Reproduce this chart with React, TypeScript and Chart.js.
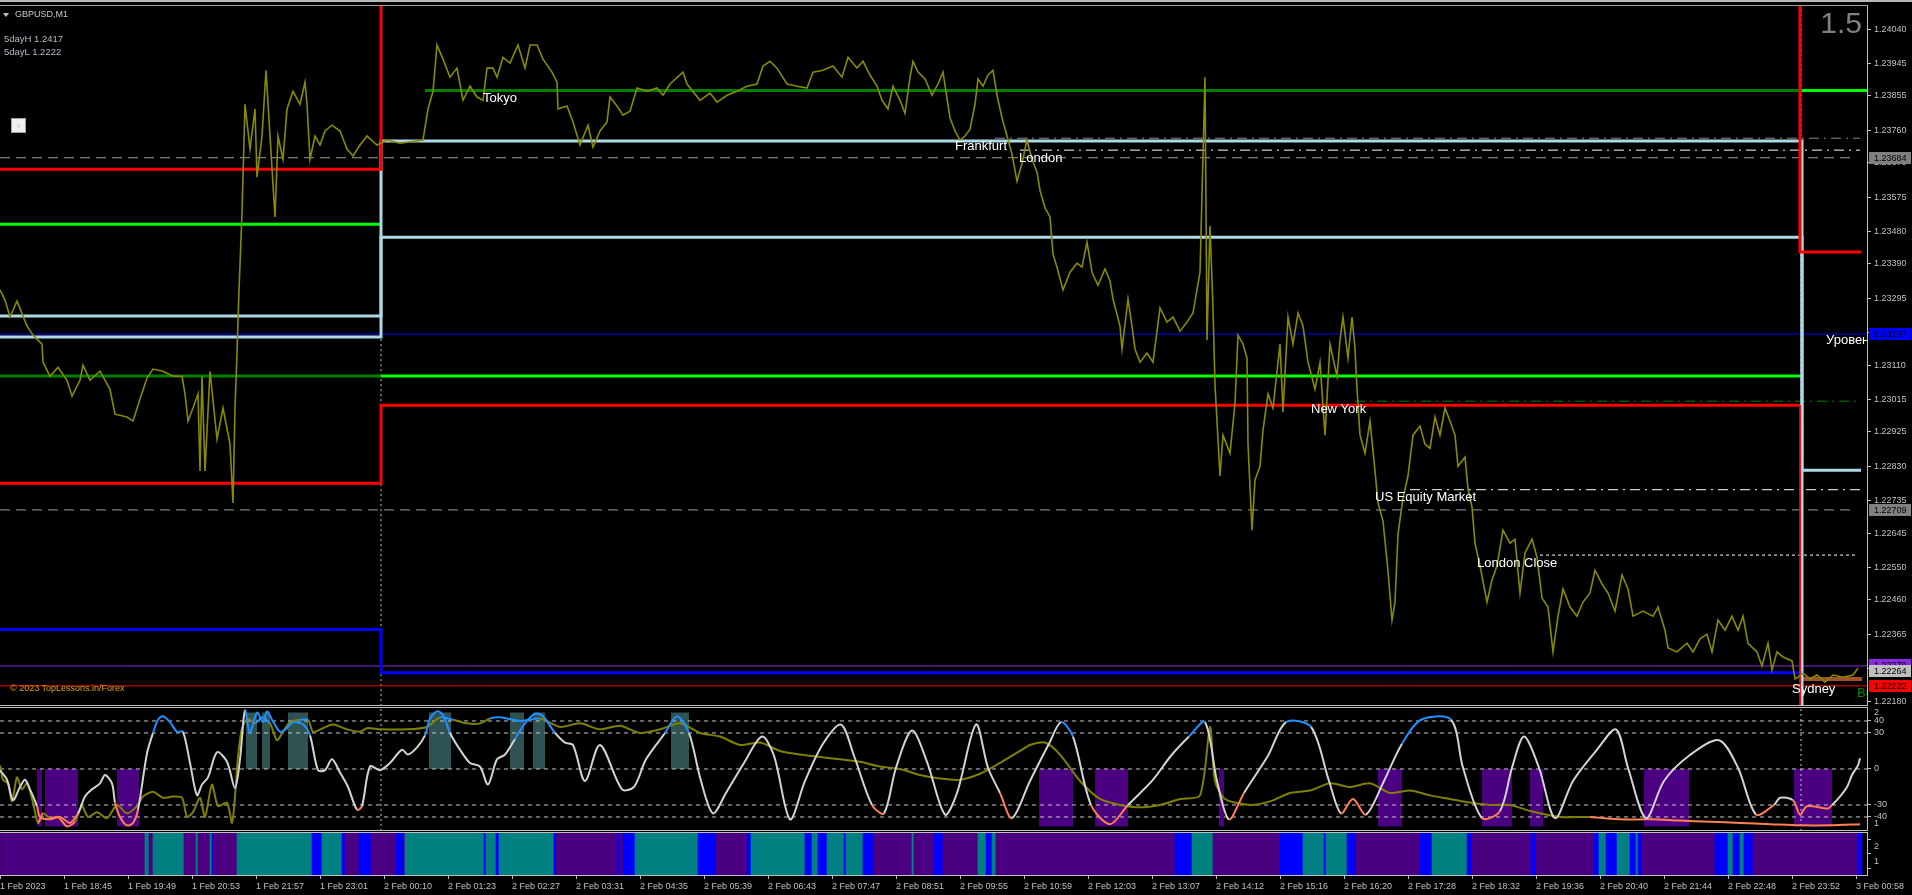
import React, { useEffect, useRef } from "react";
import { Chart, registerables } from "chart.js";
Chart.register(...registerables);

const FONT = '"Liberation Sans", Arial, sans-serif';

// ---------- axes ----------
const BAR_MAX = 1867; // M1 bars visible in the window
const PRICE_MIN = 1.22169;
const PRICE_MAX = 1.24104;
const priceTicks = [1.2404, 1.23945, 1.23855, 1.2376, 1.2367, 1.23575, 1.2348, 1.2339, 1.23295, 1.232, 1.2311, 1.23015, 1.22925, 1.2283, 1.22735, 1.22645, 1.2255, 1.2246, 1.22365, 1.2227, 1.2218];
const timeTicks = [0, 64, 128, 192, 256, 320, 384, 448, 512, 576, 640, 704, 768, 832, 896, 960, 1024, 1088, 1152, 1216, 1280, 1344, 1408, 1472, 1536, 1600, 1664, 1728, 1792, 1856];
const timeLabels = ["1 Feb 2023", "1 Feb 18:45", "1 Feb 19:49", "1 Feb 20:53", "1 Feb 21:57", "1 Feb 23:01", "2 Feb 00:10", "2 Feb 01:23", "2 Feb 02:27", "2 Feb 03:31", "2 Feb 04:35", "2 Feb 05:39", "2 Feb 06:43", "2 Feb 07:47", "2 Feb 08:51", "2 Feb 09:55", "2 Feb 10:59", "2 Feb 12:03", "2 Feb 13:07", "2 Feb 14:12", "2 Feb 15:16", "2 Feb 16:20", "2 Feb 17:28", "2 Feb 18:32", "2 Feb 19:36", "2 Feb 20:40", "2 Feb 21:44", "2 Feb 22:48", "2 Feb 23:52", "3 Feb 00:58"];

// ---------- price path (bar, price) ----------
const pricePath: [number, number][] = [
  [0, 1.23318], [5, 1.2329], [10, 1.23243], [17, 1.23287], [27, 1.23218], [33, 1.23193], [42, 1.23168], [43, 1.23118], [50, 1.23079], [58, 1.23104], [67, 1.23068], [72, 1.23024], [80, 1.23068], [83, 1.2311], [90, 1.23068], [100, 1.23093], [110, 1.23043], [115, 1.22974], [127, 1.22966], [133, 1.22955], [140, 1.23016], [147, 1.23074], [153, 1.23099], [163, 1.23093], [173, 1.23079], [182, 1.23079], [185, 1.2303], [188, 1.22955], [193, 1.22991], [198, 1.2303], [200, 1.22817], [202, 1.23079], [205, 1.22817], [210, 1.23093], [217, 1.22905], [223, 1.22991], [230, 1.22891], [233, 1.22728], [235, 1.22991], [237, 1.23143], [239, 1.23318], [242, 1.23531], [245, 1.23832], [250, 1.23708], [255, 1.23819], [257, 1.2363], [262, 1.23744], [266, 1.23926], [270, 1.23744], [275, 1.2352], [278, 1.23744], [283, 1.2368], [287, 1.23819], [293, 1.23868], [300, 1.23832], [305, 1.23893], [307, 1.23832], [310, 1.2368], [315, 1.23744], [320, 1.23719], [325, 1.23758], [332, 1.23774], [340, 1.23758], [347, 1.23708], [353, 1.23689], [360, 1.23719], [367, 1.23744], [377, 1.23719], [387, 1.23733], [400, 1.23724], [423, 1.23733], [428, 1.23819], [433, 1.23868], [437, 1.23996], [443, 1.23957], [450, 1.23907], [457, 1.23932], [463, 1.23843], [470, 1.23882], [477, 1.23852], [483, 1.23843], [487, 1.23932], [493, 1.23932], [497, 1.23907], [503, 1.23962], [510, 1.23946], [518, 1.23996], [525, 1.23932], [530, 1.23996], [537, 1.23996], [543, 1.23957], [552, 1.23921], [557, 1.23893], [558, 1.23819], [567, 1.23827], [573, 1.23783], [580, 1.23719], [588, 1.23774], [593, 1.23713], [600, 1.23758], [607, 1.23783], [610, 1.23852], [617, 1.23827], [623, 1.23802], [630, 1.23813], [637, 1.23877], [647, 1.23868], [657, 1.23877], [663, 1.23857], [670, 1.23888], [683, 1.23921], [687, 1.23888], [700, 1.23843], [710, 1.23863], [717, 1.23838], [727, 1.23857], [737, 1.23868], [747, 1.23882], [757, 1.23888], [763, 1.23938], [770, 1.23951], [777, 1.23932], [787, 1.23888], [797, 1.23882], [807, 1.23877], [813, 1.23921], [823, 1.23926], [833, 1.23938], [842, 1.23907], [848, 1.23962], [857, 1.23932], [863, 1.23951], [870, 1.23913], [877, 1.23882], [882, 1.23843], [888, 1.23819], [893, 1.23882], [900, 1.23843], [905, 1.23807], [910, 1.23907], [913, 1.23951], [918, 1.23921], [925, 1.23902], [932, 1.23857], [938, 1.23888], [943, 1.23921], [950, 1.23794], [955, 1.23758], [960, 1.23733], [965, 1.23744], [970, 1.23763], [975, 1.23832], [978, 1.23902], [983, 1.23882], [988, 1.23913], [993, 1.23926], [997, 1.23857], [1002, 1.23794], [1007, 1.23744], [1012, 1.23694], [1017, 1.23619], [1022, 1.23669], [1027, 1.23733], [1032, 1.2368], [1037, 1.23644], [1040, 1.23594], [1045, 1.23545], [1050, 1.2352], [1053, 1.23417], [1057, 1.23381], [1063, 1.23318], [1070, 1.23367], [1077, 1.23392], [1082, 1.23381], [1087, 1.2345], [1092, 1.23367], [1098, 1.23331], [1105, 1.23376], [1110, 1.23343], [1113, 1.23293], [1120, 1.23218], [1122, 1.23154], [1128, 1.23293], [1132, 1.23218], [1135, 1.23154], [1140, 1.23118], [1147, 1.23143], [1153, 1.23118], [1160, 1.23268], [1167, 1.23229], [1173, 1.23243], [1180, 1.23204], [1187, 1.23229], [1193, 1.23254], [1200, 1.23367], [1205, 1.23907], [1207, 1.23179], [1210, 1.23495], [1213, 1.23268], [1215, 1.23055], [1220, 1.22803], [1223, 1.22916], [1230, 1.22866], [1235, 1.23005], [1238, 1.23193], [1243, 1.23168], [1247, 1.23129], [1248, 1.22891], [1252, 1.22653], [1255, 1.22792], [1260, 1.2283], [1263, 1.2293], [1268, 1.2303], [1273, 1.22991], [1280, 1.23168], [1283, 1.2298], [1288, 1.23243], [1293, 1.23168], [1298, 1.23254], [1303, 1.23218], [1308, 1.23118], [1315, 1.23043], [1320, 1.23118], [1325, 1.22916], [1330, 1.23168], [1337, 1.23079], [1340, 1.23179], [1343, 1.23243], [1348, 1.23129], [1352, 1.23243], [1355, 1.23154], [1357, 1.23043], [1360, 1.22916], [1365, 1.22866], [1370, 1.22955], [1375, 1.22817], [1378, 1.22728], [1383, 1.22678], [1388, 1.2254], [1392, 1.22404], [1395, 1.22454], [1398, 1.22642], [1403, 1.22742], [1408, 1.22803], [1413, 1.22916], [1420, 1.22941], [1425, 1.22891], [1430, 1.2288], [1435, 1.22966], [1440, 1.22916], [1445, 1.22991], [1450, 1.22955], [1455, 1.22916], [1458, 1.2283], [1465, 1.22855], [1468, 1.22767], [1472, 1.22717], [1475, 1.22617], [1480, 1.22554], [1487, 1.22454], [1492, 1.22515], [1497, 1.22554], [1503, 1.22653], [1510, 1.22617], [1515, 1.22628], [1520, 1.22479], [1525, 1.2259], [1532, 1.22628], [1537, 1.22578], [1542, 1.22465], [1548, 1.2244], [1553, 1.22316], [1558, 1.22415], [1563, 1.2249], [1570, 1.2244], [1577, 1.22415], [1583, 1.22454], [1590, 1.22479], [1595, 1.22542], [1602, 1.22504], [1608, 1.22479], [1615, 1.22429], [1622, 1.22529], [1628, 1.2249], [1633, 1.22415], [1643, 1.22429], [1653, 1.22415], [1658, 1.2244], [1665, 1.22376], [1668, 1.22327], [1677, 1.22316], [1687, 1.2234], [1693, 1.22316], [1700, 1.22352], [1707, 1.22365], [1712, 1.22316], [1718, 1.22404], [1725, 1.22376], [1732, 1.22415], [1738, 1.22376], [1743, 1.22415], [1748, 1.2234], [1757, 1.22316], [1762, 1.22277], [1768, 1.2234], [1772, 1.22266], [1777, 1.22316], [1783, 1.22302], [1792, 1.22291], [1795, 1.22241], [1798, 1.22246], [1803, 1.22257], [1810, 1.22241], [1817, 1.22252], [1825, 1.22232], [1833, 1.22252], [1843, 1.22246], [1853, 1.22252], [1858, 1.22271],
];

// ---------- session step lines (bar, price) ----------
const redHighBars = [0, 381, 381, 1800, 1800, 1861];
const redHighPrice = [1.23652, 1.23652, 1.2417, 1.2417, 1.23423, 1.23423];
const redLowBars = [0, 381, 381, 1800];
const redLowPrice = [1.22783, 1.22783, 1.22999, 1.22999];
const redTailBars = [1800, 1800];
const redTailPrice = [1.22999, 1.2212];
const iceABars = [0, 381, 381, 1802, 1802];
const iceAPrice = [1.23188, 1.23188, 1.2373, 1.2373, 1.2212];
const iceBBars = [0, 381, 381, 1802, 1802, 1861];
const iceBPrice = [1.23246, 1.23246, 1.23464, 1.23464, 1.22819, 1.22819];
const blueBars = [0, 381, 381, 1802];
const bluePrice = [1.22378, 1.22378, 1.22258, 1.22258];

// ---------- horizontal levels ----------
const levelPrice = [1.235, 1.2308, 1.2387, 1.2308, 1.2387, 1.23196, 1.22277, 1.22222, 1.23684, 1.22709, 1.23738, 1.23705, 1.2301, 1.22765, 1.22584, 1.22241];
const levelFrom = [0, 0, 425, 381, 1802, 0, 0, 0, 0, 0, 995, 1020, 1355, 1410, 1540, 1800];
const levelTo = [381, 381, 1802, 1802, 1867, 1867, 1867, 1867, 1850, 1850, 1860, 1860, 1860, 1860, 1857, 1862];
const levelKind = ["greenHi", "greenDk", "greenDk", "greenHi", "greenHi", "blueThin", "purpleThin", "redThin", "grayDash", "grayDash", "grayDashDot", "whiteDashDot", "greenDashDot", "whiteDashDot", "whiteDot", "sienna"];

const sepBars = [381, 1801];

// ---------- labels on the chart ----------
const sessionNames = ["Tokyo", "Frankfurt", "London", "New York", "US Equity Market", "London Close", "Sydney", "Уровень", "Bu"];
const sessionBar = [483, 955, 1019, 1311, 1375, 1477, 1792, 1826, 1857];
const sessionPrice = [1.23849, 1.23716, 1.23683, 1.22988, 1.22745, 1.22562, 1.22213, 1.23179, 1.22202];
const boxPrices = [1.23684, 1.23197, 1.22709, 1.22279, 1.22264, 1.22222];

// ---------- oscillator ----------
const oscLevels = [40, 30, 0, -30, -40];
const oscWhite: [number, number][] = [
  [0, -1], [7, -9], [13, -26], [20, -15], [25, -9], [30, -17], [37, -31], [40, -40], [50, -42], [60, -40], [70, -45], [78, -37], [85, -23], [92, -17], [100, -12], [105, -5], [112, -12], [115, -28], [120, -40], [127, -47], [133, -45], [138, -34], [147, 13], [153, 30], [158, 41], [163, 44], [170, 39], [177, 31], [183, 31], [190, 5], [197, -22], [202, -13], [208, -7], [217, 14], [227, 6], [235, -16], [240, 8], [245, 49], [250, 30], [257, 47], [263, 39], [267, 48], [272, 41], [280, 31], [287, 34], [293, 39], [303, 37], [310, 28], [318, -1], [325, -1], [332, 8], [340, -3], [348, -15], [357, -34], [362, -31], [370, 2], [380, -1], [390, 5], [402, 16], [408, 12], [417, 18], [425, 28], [430, 42], [437, 48], [443, 45], [450, 30], [460, 16], [470, 5], [480, 2], [488, -13], [497, 8], [505, 12], [515, 25], [525, 38], [535, 46], [543, 44], [555, 30], [565, 22], [573, 20], [585, -10], [600, 20], [622, -17], [634, -15], [646, 8], [665, 30], [677, 44], [689, 30], [701, -10], [713, -37], [726, -20], [744, 5], [762, 27], [774, 11], [790, -42], [805, -10], [823, 21], [841, 37], [854, 11], [872, -30], [884, -37], [896, 1], [912, 32], [927, 6], [945, -38], [957, -20], [976, 37], [988, 1], [1000, -20], [1012, -41], [1030, -10], [1049, 21], [1061, 39], [1073, 27], [1091, -30], [1110, -46], [1128, -30], [1152, -10], [1171, 11], [1189, 27], [1205, 39], [1217, -10], [1229, -42], [1244, -20], [1268, 11], [1286, 39], [1311, 35], [1329, -10], [1341, -37], [1353, -25], [1366, -38], [1384, -10], [1402, 21], [1421, 41], [1451, 41], [1463, 1], [1482, -41], [1500, -35], [1512, 1], [1524, 27], [1539, 1], [1555, -41], [1573, -10], [1597, 16], [1616, 33], [1628, 1], [1646, -41], [1664, -10], [1689, 11], [1719, 24], [1738, 1], [1756, -38], [1774, -30], [1780, -24], [1793, -26], [1800, -38], [1807, -31], [1828, -33], [1832, -30], [1838, -25], [1847, -15], [1852, -5], [1855, -1], [1858, 3], [1860, 9],
];
const oscOlive: [number, number][] = [
  [0, 3], [3, -9], [8, -12], [12, -27], [17, -7], [22, -17], [27, -12], [33, -28], [38, -45], [43, -37], [50, -41], [58, -40], [67, -48], [75, -44], [82, -31], [88, -40], [97, -36], [107, -41], [117, -30], [127, -37], [137, -31], [143, -23], [153, -19], [163, -24], [173, -23], [182, -24], [187, -40], [193, -36], [200, -24], [205, -40], [212, -13], [218, -31], [227, -28], [232, -45], [235, -23], [238, 10], [242, 34], [248, 42], [255, 38], [262, 43], [270, 38], [277, 24], [283, 31], [290, 39], [300, 41], [308, 41], [313, 31], [323, 34], [333, 37], [347, 33], [360, 31], [367, 34], [380, 33], [407, 33], [427, 35], [440, 43], [453, 41], [467, 38], [480, 38], [490, 42], [500, 43], [520, 40], [540, 42], [560, 35], [580, 38], [600, 33], [620, 36], [640, 30], [660, 33], [680, 38], [700, 30], [720, 27], [740, 20], [760, 22], [780, 15], [800, 12], [820, 10], [840, 8], [860, 6], [880, 2], [900, 0], [920, -5], [940, -8], [960, -9], [980, -4], [1000, 5], [1010, 10], [1020, 15], [1030, 20], [1045, 22], [1060, 12], [1080, -10], [1100, -25], [1120, -30], [1140, -32], [1160, -30], [1180, -25], [1200, -22], [1210, 35], [1215, -10], [1225, -25], [1250, -30], [1270, -27], [1290, -20], [1310, -18], [1330, -12], [1350, -15], [1370, -12], [1390, -20], [1410, -18], [1430, -22], [1450, -25], [1470, -28], [1490, -30], [1510, -30], [1530, -35], [1560, -40], [1590, -40], [1620, -42], [1650, -42], [1680, -43], [1710, -44], [1740, -45], [1770, -46], [1800, -47], [1830, -47], [1860, -46],
];
const tealStart = [246, 262, 288, 429, 510, 533, 671];
const tealEnd = [257, 270, 308, 451, 524, 545, 689];
const tealTop = 47;
const purpStart = [37, 45, 117, 1039, 1095, 1219, 1378, 1482, 1530, 1644, 1794];
const purpEnd = [42, 78, 139, 1073, 1128, 1224, 1402, 1512, 1543, 1689, 1832];
const purpBottom = -48;
const keyLabels = [2, 1];

// ---------- state bar ----------
const barEdges = [0, 145, 149, 153, 184, 196, 198, 210, 212, 213, 237, 312, 322, 342, 345, 359, 371, 396, 404, 405, 484, 486, 496, 499, 554, 556, 617, 619, 623, 635, 698, 716, 747, 751, 805, 812, 818, 827, 844, 846, 863, 874, 912, 914, 934, 943, 978, 986, 992, 996, 1175, 1192, 1213, 1280, 1303, 1324, 1326, 1347, 1356, 1420, 1432, 1467, 1472, 1531, 1536, 1594, 1599, 1606, 1617, 1630, 1636, 1638, 1642, 1715, 1728, 1733, 1740, 1744, 1753, 1858, 1862];
const barStates = ["P", "T", "P", "T", "P", "T", "P", "T", "B", "P", "T", "B", "T", "B", "P", "B", "P", "B", "P", "T", "B", "T", "B", "T", "B", "P", "B", "P", "B", "T", "B", "P", "B", "T", "B", "T", "B", "T", "B", "T", "B", "P", "T", "P", "B", "P", "T", "B", "T", "P", "B", "T", "P", "B", "T", "B", "T", "B", "P", "B", "T", "B", "P", "B", "P", "B", "T", "B", "T", "B", "T", "B", "P", "B", "T", "B", "T", "B", "P", "B"];

// ---------- styles ----------
const AX = "#C0C0C0";
const LEVEL_STYLE: Record<string, { c: string; w: number; d: number[] }> = {
  greenHi: { c: "#00FF00", w: 3, d: [] },
  greenDk: { c: "#008000", w: 3, d: [] },
  blueThin: { c: "#0000FF", w: 1, d: [] },
  purpleThin: { c: "#8A2BE2", w: 1, d: [] },
  redThin: { c: "#FF0000", w: 1, d: [] },
  grayDash: { c: "#9A9A9A", w: 1, d: [10, 6] },
  grayDashDot: { c: "#8A8A8A", w: 1, d: [10, 5, 2, 5] },
  whiteDashDot: { c: "#FFFFFF", w: 1, d: [10, 5, 2, 5] },
  greenDashDot: { c: "#008000", w: 1, d: [10, 5, 2, 5] },
  whiteDot: { c: "#FFFFFF", w: 1, d: [3, 3] },
  sienna: { c: "#A0522D", w: 4, d: [] },
};
const STATE_COLOR: Record<string, string> = { P: "#4B0082", T: "#008080", B: "#0000FF" };
const BOX_COLOR = ["#808080", "#0000FF", "#808080", "#8A2BE2", "#C0C0C0", "#FF0000"];

const xy = (xs: number[], ys: number[]) => xs.map((x, i) => ({ x, y: ys[i] }));
const pairs = (p: [number, number][]) => p.map(([x, y]) => ({ x, y }));

function line(data: any[], color: string, width: number, dash: number[], order: number, extra: any = {}) {
  return { type: "line", xAxisID: "x", yAxisID: "y", data, borderColor: color, borderWidth: width, borderDash: dash, pointRadius: 0, fill: false, tension: 0, order, ...extra };
}

const tickFont = { family: FONT, size: 9 };

function mainConfig(): any {
  const ds: any[] = [];
  levelPrice.forEach((p, i) => {
    const st = LEVEL_STYLE[levelKind[i]];
    ds.push(line([{ x: levelFrom[i], y: p }, { x: levelTo[i], y: p }], st.c, st.w, st.d, 6));
  });
  sepBars.forEach((b) => ds.push(line([{ x: b, y: PRICE_MIN - 0.001 }, { x: b, y: PRICE_MAX + 0.001 }], "#C8C8C8", 1, [2, 3], 7)));
  ds.push(line(xy(blueBars, bluePrice), "#0000FF", 3, [], 5));
  ds.push(line(xy(iceABars, iceAPrice), "#ADD8E6", 3, [], 4));
  ds.push(line(xy(iceBBars, iceBPrice), "#ADD8E6", 3, [], 4));
  ds.push(line(xy(redTailBars, redTailPrice), "#FF0000", 1, [], 3));
  ds.push(line(xy(redLowBars, redLowPrice), "#FF0000", 3, [], 3));
  ds.push(line(xy(redHighBars, redHighPrice), "#FF0000", 3, [], 3));
  ds.push(line(pairs(pricePath), "#8A8A00", 1.6, [], 1));

  const overlay = {
    id: "mainOverlay",
    afterDatasetsDraw(chart: any) {
      const { ctx, chartArea, scales } = chart;
      ctx.save();
      ctx.beginPath();
      ctx.rect(chartArea.left, chartArea.top, chartArea.width, chartArea.height);
      ctx.clip();
      ctx.font = `13px ${FONT}`;
      ctx.textBaseline = "middle";
      sessionNames.forEach((n, i) => {
        ctx.fillStyle = n === "Bu" ? "#008000" : "#FFFFFF";
        ctx.fillText(n, scales.x.getPixelForValue(sessionBar[i]), scales.y.getPixelForValue(sessionPrice[i]));
      });
      ctx.restore();
    },
    afterDraw(chart: any) {
      const { ctx, chartArea, scales } = chart;
      ctx.save();
      ctx.font = `9px ${FONT}`;
      ctx.textBaseline = "middle";
      boxPrices.forEach((p, i) => {
        const py = Math.round(scales.y.getPixelForValue(p));
        ctx.fillStyle = BOX_COLOR[i];
        ctx.fillRect(chartArea.right + 2, py - 6, 42, 12);
        ctx.fillStyle = "#000000";
        ctx.fillText(p.toFixed(5), chartArea.right + 7, py + 0.5);
      });
      ctx.restore();
    },
  };

  return {
    type: "line",
    data: { datasets: ds },
    options: {
      responsive: false,
      animation: false,
      events: [],
      layout: { padding: { top: 6, bottom: 1, left: 0, right: 0 } },
      plugins: { legend: { display: false }, tooltip: { enabled: false } },
      scales: {
        x: { type: "linear", min: 0, max: BAR_MAX, display: false },
        y: {
          type: "linear",
          position: "right",
          min: PRICE_MIN,
          max: PRICE_MAX,
          afterBuildTicks: (s: any) => { s.ticks = priceTicks.map((v) => ({ value: v })); },
          afterFit: (s: any) => { s.width = 45; s.paddingTop = 0; s.paddingBottom = 0; },
          ticks: { color: AX, font: tickFont, padding: 3, autoSkip: false, callback: (v: any) => Number(v).toFixed(5) },
          grid: { drawOnChartArea: false, drawTicks: true, tickLength: 4, color: AX },
          border: { display: true, color: AX },
        },
      },
    },
    plugins: [overlay],
  };
}

function oscConfig(): any {
  const ds: any[] = [];
  const teal: any[] = [];
  tealStart.forEach((s, i) => teal.push({ x: s, y: 0 }, { x: s, y: tealTop }, { x: tealEnd[i], y: tealTop }, { x: tealEnd[i], y: 0 }));
  const purp: any[] = [];
  purpStart.forEach((s, i) => purp.push({ x: s, y: 0 }, { x: s, y: purpBottom }, { x: purpEnd[i], y: purpBottom }, { x: purpEnd[i], y: 0 }));
  ds.push(line(teal, "rgba(0,0,0,0)", 0, [], 10, { fill: { value: 0 }, backgroundColor: "#2F5252" }));
  ds.push(line(purp, "rgba(0,0,0,0)", 0, [], 10, { fill: { value: 0 }, backgroundColor: "#4B0082" }));
  oscLevels.forEach((v) => ds.push(line([{ x: 0, y: v }, { x: BAR_MAX, y: v }], "#C8C8C8", 1, [4, 4], 6)));
  sepBars.forEach((b) => ds.push(line([{ x: b, y: -60 }, { x: b, y: 60 }], "#C8C8C8", 1, [2, 3], 7)));
  const colorBy = (hi: number, lo: number, base: string) => (c: any) => {
    const m = (c.p0.parsed.y + c.p1.parsed.y) / 2;
    return m > hi ? "#1E90FF" : m < lo ? "#FF7F50" : base;
  };
  ds.push(line(pairs(oscOlive), "#808000", 2, [], 2, { tension: 0.25, segment: { borderColor: colorBy(40, -40, "#808000") } }));
  ds.push(line(pairs(oscWhite), "#D3D3D3", 2, [], 1, { tension: 0.3, segment: { borderColor: colorBy(30, -30, "#D3D3D3") } }));

  const overlay = {
    id: "oscOverlay",
    afterDraw(chart: any) {
      const { ctx, chartArea, scales } = chart;
      ctx.save();
      ctx.font = `9px ${FONT}`;
      ctx.textBaseline = "middle";
      ctx.fillStyle = AX;
      keyLabels.forEach((k) => ctx.fillText(String(k), chartArea.right + 7, scales.yk.getPixelForValue(k)));
      ctx.restore();
    },
  };

  return {
    type: "line",
    data: { datasets: ds },
    options: {
      responsive: false,
      animation: false,
      events: [],
      layout: { padding: 0 },
      plugins: { legend: { display: false }, tooltip: { enabled: false } },
      scales: {
        x: { type: "linear", min: 0, max: BAR_MAX, display: false },
        y: {
          type: "linear",
          position: "right",
          min: -51.7,
          max: 50.8,
          afterBuildTicks: (s: any) => { s.ticks = oscLevels.map((v) => ({ value: v })); },
          afterFit: (s: any) => { s.width = 45; s.paddingTop = 0; s.paddingBottom = 0; },
          ticks: { color: AX, font: tickFont, padding: 3, autoSkip: false },
          grid: { drawOnChartArea: false, drawTicks: true, tickLength: 4, color: AX },
          border: { display: true, color: AX },
        },
        yk: { type: "linear", min: 0.937, max: 2.045, display: false },
      },
    },
    plugins: [overlay],
  };
}

function barConfig(): any {
  const segs = barStates.map((s, i) => ({ x: [barEdges[i], barEdges[i + 1]], y: "s" }));
  return {
    type: "bar",
    data: {
      labels: ["s"],
      datasets: [{ xAxisID: "x", yAxisID: "y", data: segs, backgroundColor: barStates.map((s) => STATE_COLOR[s]), borderWidth: 0, barPercentage: 1, categoryPercentage: 1 }],
    },
    options: {
      indexAxis: "y",
      responsive: false,
      animation: false,
      events: [],
      layout: { padding: 0 },
      plugins: { legend: { display: false }, tooltip: { enabled: false } },
      scales: {
        x: {
          type: "linear",
          position: "bottom",
          min: 0,
          max: BAR_MAX,
          afterBuildTicks: (s: any) => { s.ticks = timeTicks.map((v) => ({ value: v })); },
          afterFit: (s: any) => { s.height = 20; s.paddingLeft = 0; s.paddingRight = 0; },
          ticks: { color: AX, font: tickFont, padding: 2, align: "start", autoSkip: false, maxRotation: 0, callback: (_v: any, i: number) => timeLabels[i] },
          grid: { drawOnChartArea: false, drawTicks: true, tickLength: 4, color: AX },
          border: { display: true, color: AX },
        },
        y: { type: "category", display: false },
        yk: {
          type: "linear",
          position: "right",
          min: 0.76,
          max: 2.21,
          afterBuildTicks: (s: any) => { s.ticks = keyLabels.map((v) => ({ value: v })); },
          afterFit: (s: any) => { s.width = 45; s.paddingTop = 0; s.paddingBottom = 0; },
          ticks: { color: AX, font: tickFont, padding: 3, autoSkip: false },
          grid: { drawOnChartArea: false, drawTicks: true, tickLength: 4, color: AX },
          border: { display: true, color: AX },
        },
      },
    },
  };
}

const abs = (l: number, t: number, extra: any = {}) => ({ position: "absolute" as const, left: l, top: t, ...extra });

export default function App() {
  const mainRef = useRef<HTMLCanvasElement>(null);
  const oscRef = useRef<HTMLCanvasElement>(null);
  const barRef = useRef<HTMLCanvasElement>(null);

  useEffect(() => {
    const charts = [
      new Chart(mainRef.current as HTMLCanvasElement, mainConfig()),
      new Chart(oscRef.current as HTMLCanvasElement, oscConfig()),
      new Chart(barRef.current as HTMLCanvasElement, barConfig()),
    ];
    return () => charts.forEach((c) => c.destroy());
  }, []);

  const txt = { fontFamily: FONT, whiteSpace: "nowrap" as const };
  return (
    <div style={{ position: "fixed", left: 0, top: 0, width: 1912, height: 895, background: "#000", overflow: "hidden" }}>
      <canvas ref={mainRef} width={1912} height={706} style={abs(0, 0, { width: 1912, height: 706 })} />
      <canvas ref={oscRef} width={1912} height={123} style={abs(0, 708, { width: 1912, height: 123 })} />
      <canvas ref={barRef} width={1912} height={62} style={abs(0, 833, { width: 1912, height: 62 })} />
      {/* frame lines */}
      <div style={abs(0, 0, { width: 1912, height: 2, background: "#B8B8B8" })} />
      <div style={abs(0, 5, { width: 1868, height: 1, background: "#A0A0A0" })} />
      <div style={abs(0, 705, { width: 1868, height: 1, background: "#C0C0C0" })} />
      <div style={abs(0, 707, { width: 1868, height: 1, background: "#C0C0C0" })} />
      <div style={abs(0, 830, { width: 1868, height: 1, background: "#C0C0C0" })} />
      <div style={abs(0, 832, { width: 1868, height: 1, background: "#C0C0C0" })} />
      {/* static texts */}
      <div style={abs(3, 13, { width: 0, height: 0, borderLeft: "3.5px solid transparent", borderRight: "3.5px solid transparent", borderTop: "4px solid #C0C0C0" })} />
      <div style={abs(15, 10, { ...txt, fontSize: 9, lineHeight: "9px", color: "#C8C8C8" })}>GBPUSD,M1</div>
      <div style={abs(4, 34, { ...txt, fontSize: 9.5, lineHeight: "9.5px", color: "#B4BCC8" })}>5dayH 1.2417</div>
      <div style={abs(4, 47, { ...txt, fontSize: 9.5, lineHeight: "9.5px", color: "#B4BCC8" })}>5dayL 1.2222</div>
      <div style={abs(11, 118, { ...txt, width: 13, height: 13, background: "#F0F0F0", border: "1px solid #A0A0A0", fontSize: 8, lineHeight: "13px", textAlign: "center", color: "#C8C8C8" })}>v</div>
      <div style={abs(1820, 8, { ...txt, fontSize: 30, lineHeight: "30px", color: "#808080", width: 42, textAlign: "right" })}>1.5</div>
      <div style={abs(10, 684, { ...txt, fontSize: 9, lineHeight: "9px", color: "#E0A000" })}>© 2023 TopLessons.in/Forex</div>
    </div>
  );
}
